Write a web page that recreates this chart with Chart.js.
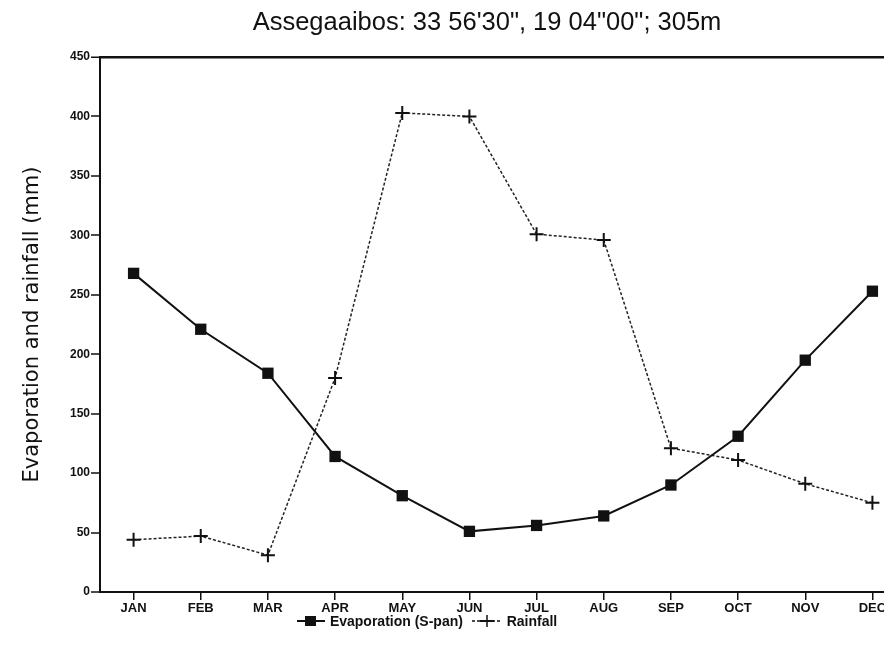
<!DOCTYPE html>
<html>
<head>
<meta charset="utf-8">
<title>Assegaaibos evaporation and rainfall</title>
<script src="https://cdn.jsdelivr.net/npm/chart.js@4/dist/chart.umd.min.js"></script>
<style>
  html, body { margin: 0; padding: 0; background: #fff; overflow: hidden; }
  #wrap { position: relative; width: 884px; height: 659px; overflow: hidden; }
  #chart { position: absolute; left: 0; top: 0; }
  #title {
    position: absolute; left: 0; width: 974px; top: 7px;
    text-align: center; line-height: 30px;
    font: 25.5px "Liberation Sans", Arial, sans-serif; color: #111;
    white-space: nowrap;
  }
  #legend {
    position: absolute; left: 296px; top: 612px;
    font: bold 14px "Liberation Sans", Arial, sans-serif;
    color: #111; white-space: nowrap;
  }
  #legend svg { vertical-align: middle; }
  #legend span { vertical-align: middle; margin-right: 4px; }
</style>
</head>
<body>
<div id="wrap">
  <canvas id="chart" width="974" height="659"></canvas>
  <div id="title">Assegaaibos: 33 56'30", 19 04"00"; 305m</div>
  <div id="legend">
    <svg width="30" height="16"><line x1="1" y1="8" x2="29" y2="8" stroke="#111" stroke-width="2"/><rect x="9" y="3" width="11" height="10" fill="#111"/></svg>
    <span>Evaporation (S-pan)</span>
    <svg width="32" height="16"><line x1="1" y1="8" x2="31" y2="8" stroke="#111" stroke-width="1.5" stroke-dasharray="3,2"/><line x1="16" y1="2" x2="16" y2="14" stroke="#111" stroke-width="1.5"/><line x1="9" y1="8" x2="23" y2="8" stroke="#111" stroke-width="2"/></svg>
    <span>Rainfall</span>
  </div>
</div>
<script>
// Monthly S-pan evaporation and rainfall (mm)
const months = ["JAN", "FEB", "MAR", "APR", "MAY", "JUN", "JUL", "AUG", "SEP", "OCT", "NOV", "DEC"];
const evaporation = [268, 221, 184, 114, 81, 51, 56, 64, 90, 131, 195, 253];
const rainfall = [44, 47, 31, 180, 403, 400, 301, 296, 121, 111, 91, 75];
const yTicks = [0, 50, 100, 150, 200, 250, 300, 350, 400, 450];

const ink = "#111";
const sans = "'Liberation Sans', Arial, sans-serif";
const wide = "'DejaVu Sans', Verdana, sans-serif";

const ctx = document.getElementById("chart").getContext("2d");

new Chart(ctx, {
  type: "line",
  data: {
    labels: months,
    datasets: [
      {
        label: "Evaporation (S-pan)",
        data: evaporation,
        borderColor: ink,
        backgroundColor: ink,
        borderWidth: 2,
        pointStyle: "rect",
        pointRadius: 8,
        pointBorderWidth: 0,
        tension: 0
      },
      {
        label: "Rainfall",
        data: rainfall,
        borderColor: "#222",
        backgroundColor: ink,
        borderWidth: 1.5,
        borderDash: [3, 2],
        pointStyle: "cross",
        pointRadius: 7,
        pointBorderWidth: 2,
        pointBorderColor: ink,
        tension: 0
      }
    ]
  },
  options: {
    responsive: false,
    animation: false,
    layout: { padding: { left: 0, top: 57, right: 68, bottom: 37 } },
    plugins: {
      legend: { display: false },
      tooltip: { enabled: false },
      title: { display: false }
    },
    scales: {
      x: {
        offset: true,
        border: { display: true, color: ink, width: 2 },
        grid: { display: true, drawOnChartArea: false, tickLength: 8, color: ink, lineWidth: 1.5, offset: false },
        ticks: {
          color: ink,
          padding: 1,
          maxRotation: 0,
          font: { family: sans, size: 13, weight: "bold" }
        },
        afterFit: function (scale) { scale.height = 30; }
      },
      y: {
        min: 0,
        max: 450,
        afterBuildTicks: function (scale) {
          scale.ticks = yTicks.map(v => ({ value: v }));
        },
        border: { display: true, color: ink, width: 2 },
        grid: {
          drawOnChartArea: true,
          tickLength: 9,
          tickColor: ink,
          tickWidth: 1.5,
          // only the 450 line is drawn, as the frame across the top
          color: c => (c.tick && c.tick.value === 450 ? ink : "rgba(0,0,0,0)"),
          lineWidth: c => (c.tick && c.tick.value === 450 ? 2.5 : 0)
        },
        ticks: {
          color: ink,
          padding: 1,
          font: { family: sans, size: 12, weight: "bold" }
        },
        title: {
          display: true,
          text: "Evaporation and rainfall (mm)",
          color: ink,
          font: { family: wide, size: 21, weight: "normal" },
          padding: { top: 20, bottom: 0 }
        },
        afterFit: function (scale) { scale.width = 100; }
      }
    }
  }
});
</script>
</body>
</html>
